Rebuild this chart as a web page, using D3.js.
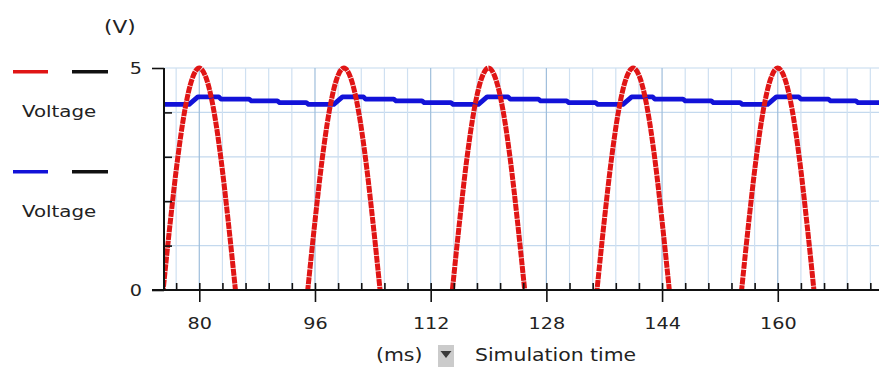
<!DOCTYPE html>
<html>
<head>
<meta charset="utf-8">
<script src="https://cdn.jsdelivr.net/npm/d3@7"></script>
<style>
  html, body { margin: 0; padding: 0; background: #ffffff; }
  svg { display: block; }
  text { font-family: "DejaVu Sans", Verdana, sans-serif; fill: #222; }
</style>
</head>
<body>
<div id="chart"></div>
<script>
// ---------- data ----------
const xMajorTicks = [80, 96, 112, 128, 144, 160];
const xMinorTicks = [76.8, 83.2, 86.4, 89.6, 92.8, 99.2, 102.4, 105.6, 108.8,
  115.2, 118.4, 121.6, 124.8, 131.2, 134.4, 137.6, 140.8, 147.2, 150.4, 153.6,
  156.8, 163.2, 166.4, 169.6, 172.8];
const yGridTicks = [1, 2, 3, 4, 5];
const yLabelTicks = [0, 5];
const seriesNames = ["Voltage", "Voltage"];

// red trace: source voltage (ms, V)
const redTime = [74.5, 75, 76, 77, 78, 79, 80, 81, 82, 83, 84, 85, 85.5,
  94.5, 95, 96, 97, 98, 99, 100, 101, 102, 103, 104, 105, 105.5,
  114.5, 115, 116, 117, 118, 119, 120, 121, 122, 123, 124, 125, 125.5,
  134.5, 135, 136, 137, 138, 139, 140, 141, 142, 143, 144, 145, 145.5,
  154.5, 155, 156, 157, 158, 159, 160, 161, 162, 163, 164, 165, 165.5];
const redVolt = [-0.8, 0, 1.55, 2.95, 4.05, 4.75, 5, 4.75, 4.05, 2.95, 1.55, 0, -0.8,
  -0.8, 0, 1.55, 2.95, 4.05, 4.75, 5, 4.75, 4.05, 2.95, 1.55, 0, -0.8,
  -0.8, 0, 1.55, 2.95, 4.05, 4.75, 5, 4.75, 4.05, 2.95, 1.55, 0, -0.8,
  -0.8, 0, 1.55, 2.95, 4.05, 4.75, 5, 4.75, 4.05, 2.95, 1.55, 0, -0.8,
  -0.8, 0, 1.55, 2.95, 4.05, 4.75, 5, 4.75, 4.05, 2.95, 1.55, 0, -0.8];

// blue trace: filtered output voltage (ms, V)
const blueTime = [75.1, 78.6, 79.8, 82.7, 83.0, 86.9, 87.2, 90.8, 91.1, 94.8, 95.1,
  98.6, 99.8, 102.7, 103.0, 106.9, 107.2, 110.8, 111.1, 114.8, 115.1,
  118.6, 119.8, 122.7, 123.0, 126.9, 127.2, 130.8, 131.1, 134.8, 135.1,
  138.6, 139.8, 142.7, 143.0, 146.9, 147.2, 150.8, 151.1, 154.8, 155.1,
  158.6, 159.8, 162.9, 163.2, 167.0, 167.3, 170.8, 171.1, 174.2];
const blueVolt = [4.18, 4.18, 4.35, 4.35, 4.30, 4.30, 4.26, 4.26, 4.22, 4.22, 4.18,
  4.18, 4.35, 4.35, 4.30, 4.30, 4.26, 4.26, 4.22, 4.22, 4.18,
  4.18, 4.35, 4.35, 4.30, 4.30, 4.26, 4.26, 4.22, 4.22, 4.18,
  4.18, 4.35, 4.35, 4.30, 4.30, 4.26, 4.26, 4.22, 4.22, 4.18,
  4.18, 4.35, 4.35, 4.30, 4.30, 4.26, 4.26, 4.22, 4.22];

// ---------- drawing ----------
const W = 879, H = 369;
const svg = d3.select("#chart").append("svg").attr("width", W).attr("height", H);

const x = d3.scaleLinear().domain([75.12, 174.0]).range([164, 879]);
const y = d3.scaleLinear().domain([0, 5]).range([290, 68]);
const STRETCH = "scale(1.2,1)";

// grid
const grid = svg.append("g");
grid.selectAll("line.hg").data(yGridTicks).join("line")
  .attr("x1", x.range()[0]).attr("x2", x.range()[1])
  .attr("y1", d => y(d)).attr("y2", d => y(d))
  .attr("stroke", "#c4d9ee").attr("stroke-width", 1.2);
grid.selectAll("line.vmin").data(xMinorTicks).join("line")
  .attr("x1", d => x(d)).attr("x2", d => x(d))
  .attr("y1", y(0)).attr("y2", y(5))
  .attr("stroke", "#cfe0f1").attr("stroke-width", 1.2);
grid.selectAll("line.vmaj").data(xMajorTicks).join("line")
  .attr("x1", d => x(d)).attr("x2", d => x(d))
  .attr("y1", y(0)).attr("y2", y(5))
  .attr("stroke", "#9fbedb").attr("stroke-width", 1.2);

// clip
svg.append("clipPath").attr("id", "plotclip").append("rect")
  .attr("x", 164).attr("y", 0).attr("width", 879 - 164).attr("height", 291);

const plot = svg.append("g").attr("clip-path", "url(#plotclip)");

const redData = redTime.map((t, i) => [t, redVolt[i]]);
const blueData = blueTime.map((t, i) => [t, blueVolt[i]]);

const redLine = d3.line().x(d => x(d[0])).y(d => y(d[1])).curve(d3.curveMonotoneX);
const blueLine = d3.line().x(d => x(d[0])).y(d => y(d[1])).curve(d3.curveLinear);

plot.append("path").datum(blueData).attr("d", blueLine)
  .attr("fill", "none").attr("stroke", "#1212d8").attr("stroke-width", 4.8)
  .attr("stroke-linejoin", "round");
plot.append("path").datum(redData).attr("d", redLine)
  .attr("fill", "none").attr("stroke", "#e01515").attr("stroke-width", 5)
  .attr("stroke-dasharray", "7,0.8");

// axes
const axisColor = "#111";
// x axis: downward major ticks with labels
const xAxisDown = svg.append("g").attr("transform", "translate(0,290)")
  .call(d3.axisBottom(x).tickValues(xMajorTicks).tickSize(12).tickSizeOuter(0)
    .tickFormat(d3.format("d")));
xAxisDown.select(".domain").remove();
xAxisDown.selectAll(".tick line").attr("stroke", axisColor).attr("stroke-width", 1.6);
xAxisDown.selectAll(".tick text")
  .attr("y", 39).attr("dy", 0).attr("transform", STRETCH)
  .style("font-size", "16px").attr("fill", "#222");
// x axis: upward ticks
const xAxisUp = svg.append("g").attr("transform", "translate(0,290)")
  .call(d3.axisTop(x).tickValues(xMajorTicks.concat(xMinorTicks)).tickSize(7)
    .tickSizeOuter(0).tickFormat(""));
xAxisUp.select(".domain").remove();
xAxisUp.selectAll(".tick line").attr("stroke", axisColor).attr("stroke-width", 1.6);

// y axis: labels + outward ticks at 0 and 5
const yAxisLeft = svg.append("g").attr("transform", "translate(164,0)")
  .call(d3.axisLeft(y).tickValues(yLabelTicks).tickSize(12).tickSizeOuter(0)
    .tickFormat(d3.format("d")));
yAxisLeft.select(".domain").remove();
yAxisLeft.selectAll(".tick line").attr("stroke", axisColor).attr("stroke-width", 1.6);
yAxisLeft.selectAll(".tick text")
  .attr("x", 0).attr("dy", "0.36em").attr("transform", "translate(-22,0) " + STRETCH)
  .style("font-size", "16px").attr("fill", "#222");
// y axis inner ticks
const yAxisRight = svg.append("g").attr("transform", "translate(164,0)")
  .call(d3.axisRight(y).tickValues([1, 2, 3, 4]).tickSize(8).tickSizeOuter(0).tickFormat(""));
yAxisRight.select(".domain").remove();
yAxisRight.selectAll(".tick line").attr("stroke", axisColor).attr("stroke-width", 1.6);

// axis lines
svg.append("line").attr("x1", 152).attr("x2", 879).attr("y1", 290).attr("y2", 290)
  .attr("stroke", axisColor).attr("stroke-width", 2);
svg.append("line").attr("x1", 164).attr("x2", 164).attr("y1", 68).attr("y2", 290)
  .attr("stroke", axisColor).attr("stroke-width", 2);

// axis titles
svg.append("text").attr("transform", "translate(104,33) " + STRETCH)
  .style("font-size", "18px").text("(V)");
svg.append("text").attr("transform", "translate(376,361) " + STRETCH)
  .style("font-size", "17px").text("(ms)");
svg.append("rect").attr("x", 438).attr("y", 345).attr("width", 16).attr("height", 22)
  .attr("fill", "#cbcbcb");
svg.append("path").attr("d", "M440.5,351 L451.5,351 L446,358 Z").attr("fill", "#3a3a3a");
svg.append("text").attr("transform", "translate(475,361) " + STRETCH)
  .style("font-size", "17px").text("Simulation time");

// legend
const legendColors = ["#e01515", "#1212d8"];
const legend = svg.append("g");
legendColors.forEach((c, i) => {
  const ly = 71.7 + i * 100;
  legend.append("line").attr("x1", 13).attr("x2", 48).attr("y1", ly).attr("y2", ly)
    .attr("stroke", c).attr("stroke-width", 3.5);
  legend.append("line").attr("x1", 72).attr("x2", 108).attr("y1", ly).attr("y2", ly)
    .attr("stroke", "#111").attr("stroke-width", 3.5);
  legend.append("text").attr("transform", `translate(22,${117 + i * 99.5}) ` + STRETCH)
    .style("font-size", "16.5px").text(seriesNames[i]);
});
</script>
</body>
</html>
